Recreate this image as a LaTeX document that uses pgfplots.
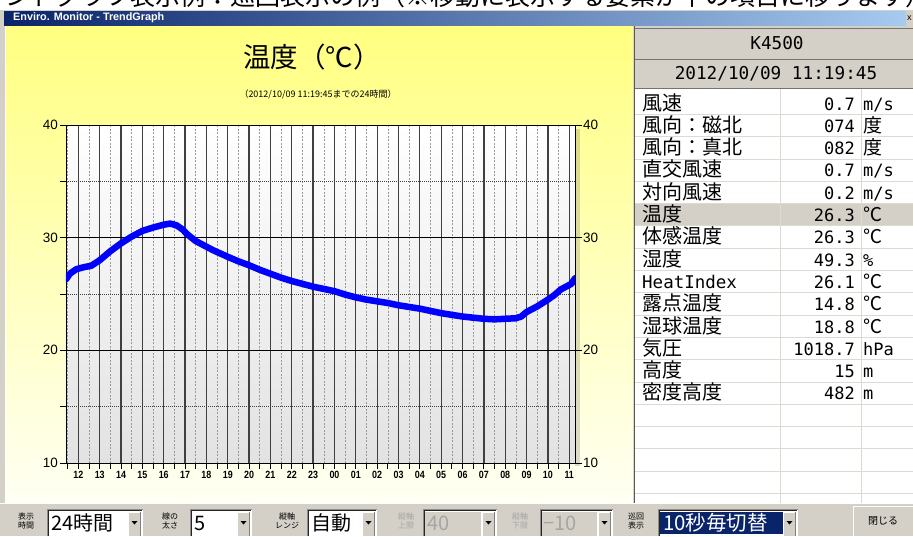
\documentclass[border=0pt]{standalone}
\usepackage{fontspec}
\setmainfont{Liberation Sans}
\newfontfamily\jp{Noto Sans CJK JP}
\newfontfamily\mono{DejaVu Sans Mono}
\usepackage{graphicx}
\usepackage{pgfplots}
\pgfplotsset{compat=1.18}

\definecolor{win}{RGB}{212,208,200}
\definecolor{navy}{RGB}{10,36,106}
\definecolor{sky}{RGB}{166,202,240}
\definecolor{ylw}{RGB}{255,255,128}
\definecolor{ylwpale}{RGB}{255,255,244}
\definecolor{plotbot}{RGB}{226,226,226}
\definecolor{rowline}{RGB}{222,218,210}
\definecolor{graytxt}{RGB}{165,165,165}

\newcommand\fs[1]{\fontsize{#1}{#1}\selectfont}
\newcommand\xl[1]{\scalebox{0.85}[1]{\bfseries #1}}
\newcommand\tinyjp{\jp\fontsize{8}{8.5}\selectfont}

% table row: index, label, value, unit
\newcommand\row[4]{%
  \node[anchor=base west,inner sep=0] at (642,{110+#1*22.3}) {#2};
  \node[anchor=base east,inner sep=0] at (855,{110+#1*22.3}) {\mono\fs{17}#3};
  \node[anchor=base west,inner sep=0] at (863,{110+#1*22.3}) {#4};}

% combo box: left x, right x, content
\newcommand\combo[3]{%
  \fill[white] (#1,509) rectangle (#2,536);
  \draw[black!45] (#1+0.5,536) -- (#1+0.5,509.5) -- (#2,509.5);
  \draw[black!85] (#1+1.5,536) -- (#1+1.5,510.5) -- (#2-1,510.5);
  \fill[win] (#2-15,511.5) rectangle (#2-2,536);
  \draw[white] (#2-14.5,536) -- (#2-14.5,512) -- (#2-2,512);
  \draw[black!50] (#2-2.5,512) -- (#2-2.5,536);
  \fill[black] (#2-11.5,521) -- (#2-5.5,521) -- (#2-8.5,524.5) -- cycle;
  \node[anchor=base west,inner sep=0] at (#1+4,530) {#3};}

\begin{document}
\begin{tikzpicture}
\begin{scope}[x=1pt,y=-1pt]
\path[use as bounding box] (0,0) rectangle (913,536);
\fill[white] (0,0) rectangle (913,536);
% heading line cut off above the window
\begin{scope}
\clip (0,0) rectangle (913,10);
\node[anchor=base west,inner sep=0] at (-45,5) {\jp\fs{25}トレンドグラフ表示例：巡回表示の例（※移動に表示する要素が下の項目に移ります）};
\end{scope}
% window frame and title bar
\fill[win] (0,10) rectangle (913,536);
\draw[white] (5.5,26) -- (5.5,503);
\shade[left color=navy, right color=sky] (4,11) rectangle (906,25);
\node[anchor=west,text=white,inner sep=0] at (13,18) {\bfseries\fs{10.8}Enviro. Monitor - TrendGraph};
\fill[win] (906,11) rectangle (913,25);
\node[anchor=west,inner sep=0] at (907,18) {\fs{9}x};
% yellow graph pane
\shade[top color=ylw, bottom color=ylwpale] (6,26) rectangle (633,503);
\fill[black,opacity=0.14] (575,129) rectangle (580,466);
\node at (312,57) {\jp\fs{27.5}温度（℃）};
\node at (318,94) {\jp\fs{9}（2012/10/09 11:19:45までの24時間）};
% right value panel
\fill[white] (634,88) rectangle (913,503);
\fill[win] (634,26) rectangle (913,88);
\fill[win] (635,{214.5-11.15}) rectangle (913,{214.5+11.15});
\foreach \k in {0,...,17} \draw[rowline] (635,{114.15+\k*22.3}) -- (913,{114.15+\k*22.3});
\draw[rowline] (780,89) -- (780,503);
\draw[rowline] (861,89) -- (861,503);
\draw[black!55] (635,28.5) -- (913,28.5);
\draw[black!55] (635,59.5) -- (913,59.5);
\draw[black!55] (635,88.5) -- (913,88.5);
\draw[black!65,line width=1pt] (634.5,26) -- (634.5,503);
\node at (777,43) {\mono\fs{17.7}K4500};
\node at (776,74) {\mono\fs{17.7}2012/10/09 11:19:45};
\row{0}{\jp\fs{20}風速}{0.7}{\mono\fs{17}m/s}
\row{1}{\jp\fs{20}風向：磁北}{074}{\jp\fs{19}度}
\row{2}{\jp\fs{20}風向：真北}{082}{\jp\fs{19}度}
\row{3}{\jp\fs{20}直交風速}{0.7}{\mono\fs{17}m/s}
\row{4}{\jp\fs{20}対向風速}{0.2}{\mono\fs{17}m/s}
\row{5}{\jp\fs{20}温度}{26.3}{\jp\fs{19}℃}
\row{6}{\jp\fs{20}体感温度}{26.3}{\jp\fs{19}℃}
\row{7}{\jp\fs{20}湿度}{49.3}{\mono\fs{17}\%}
\row{8}{\mono\fs{17.5}HeatIndex}{26.1}{\jp\fs{19}℃}
\row{9}{\jp\fs{20}露点温度}{14.8}{\jp\fs{19}℃}
\row{10}{\jp\fs{20}湿球温度}{18.8}{\jp\fs{19}℃}
\row{11}{\jp\fs{20}気圧}{1018.7}{\mono\fs{17}hPa}
\row{12}{\jp\fs{20}高度}{15}{\mono\fs{17}m}
\row{13}{\jp\fs{20}密度高度}{482}{\mono\fs{17}m}
% control bar
\fill[win] (0,503) rectangle (913,536);
\draw[white] (0,503.5) -- (913,503.5);
\node[align=center,inner sep=0,font=\tinyjp] at (26,521) {表示\\時間};
\combo{47}{143}{\jp\fs{20}24時間}
\node[align=center,inner sep=0,font=\tinyjp] at (170,521) {線の\\太さ};
\combo{190}{252}{\jp\fs{20}5}
\node[align=center,inner sep=0,font=\tinyjp] at (287,521) {縦軸\\レンジ};
\combo{307}{377}{\jp\fs{20}自動}
\node[align=center,inner sep=0,font=\tinyjp,text=graytxt] at (406,521) {縦軸\\上限};
\combo{423}{497}{}
\fill[win] (425,511.5) rectangle (481,536);
\node[anchor=base west,inner sep=0] at (427,530) {\jp\fs{20}\color{graytxt}40};
\node[align=center,inner sep=0,font=\tinyjp,text=graytxt] at (520,521) {縦軸\\下限};
\combo{540}{613}{}
\fill[win] (542,511.5) rectangle (597,536);
\node[anchor=base west,inner sep=0] at (543,530) {\jp\fs{20}\color{graytxt}−10};
\node[align=center,inner sep=0,font=\tinyjp] at (636,521) {巡回\\表示};
\combo{658}{798}{}
\fill[navy] (660,511.5) rectangle (783,534);
\node[anchor=base west,inner sep=0] at (663,530) {\jp\fs{20.5}\color{white}10秒毎切替};
\fill[win] (853,506) rectangle (913,536);
\draw[white] (853.5,536) -- (853.5,506.5) -- (913,506.5);
\node at (883,521) {\jp\fs{10}閉じる};
\end{scope}

\begin{axis}[
    at={(66pt,-463pt)}, anchor=south west,
    width=509pt, height=338pt, scale only axis,
    xmin=11.42, xmax=35.27, ymin=10, ymax=40,
    axis background/.style={shade, top color=white, bottom color=plotbot},
    xtick={12,...,35},
    xticklabels={\xl{12},\xl{13},\xl{14},\xl{15},\xl{16},\xl{17},\xl{18},\xl{19},\xl{20},\xl{21},\xl{22},\xl{23},
                 \xl{00},\xl{01},\xl{02},\xl{03},\xl{04},\xl{05},\xl{06},\xl{07},\xl{08},\xl{09},\xl{10},\xl{11}},
    minor xtick={11.5,12.5,...,34.5},
    ytick={10,20,30,40},
    minor ytick={15,25,35},
    tick pos=left, tick align=outside,
    major tick length=6pt, minor tick length=6pt,
    tick style={black, line width=0.8pt},
    grid=both,
    major x grid style={black!75, line width=1.3pt},
    minor x grid style={black!40, line width=0.6pt, dash pattern=on 2pt off 1.5pt},
    major y grid style={black, line width=0.8pt},
    minor y grid style={black!75, line width=0.7pt, dash pattern=on 1pt off 1pt},
    axis line style={black, line width=0.8pt},
    /pgf/number format/assume math mode=true,
    yticklabel style={font=\fs{13.5}, inner xsep=2pt},
    xticklabel style={font=\fs{10.5}, inner ysep=2pt},
]
\addplot[color={rgb,255:red,0;green,0;blue,255}, line width=6.5pt, line join=round, line cap=round] coordinates {
 (11.42,26.3) (11.6,26.8) (11.9,27.2) (12.3,27.4) (12.6,27.5) (13.0,28.0)
 (13.5,28.8) (14.0,29.5) (14.5,30.1) (15.0,30.6) (15.5,30.9) (16.0,31.15)
 (16.3,31.25) (16.6,31.1) (16.9,30.7) (17.1,30.3) (17.5,29.7) (18.0,29.2)
 (18.3,28.9) (19.0,28.3) (19.5,27.9) (20.0,27.55) (20.5,27.15) (21.0,26.8)
 (21.5,26.45) (22.0,26.15) (22.5,25.9) (23.0,25.65) (23.5,25.45) (24.0,25.25)
 (24.5,24.95) (25.0,24.7) (25.5,24.5) (26.0,24.35) (26.5,24.2) (27.0,24.0)
 (27.5,23.85) (28.0,23.7) (28.5,23.5) (29.0,23.3) (29.5,23.15) (30.0,23.0)
 (30.5,22.9) (31.0,22.8) (31.5,22.75) (32.0,22.8) (32.5,22.85) (32.75,23.0)
 (33.0,23.4) (33.5,23.9) (34.0,24.5) (34.3,24.9) (34.6,25.4) (34.9,25.7)
 (35.1,25.9) (35.27,26.4)
};
\end{axis}

\begin{axis}[
    at={(66pt,-463pt)}, anchor=south west,
    width=509pt, height=338pt, scale only axis,
    xmin=11.42, xmax=35.27, ymin=10, ymax=40,
    hide x axis, axis y line*=right,
    ytick={10,20,30,40}, tick align=outside,
    major tick length=7pt,
    tick style={black, line width=0.8pt},
    axis line style={black, line width=0.8pt},
    /pgf/number format/assume math mode=true,
    yticklabel style={font=\fs{13.5}, inner xsep=1pt},
]
\end{axis}
\end{tikzpicture}
\end{document}
